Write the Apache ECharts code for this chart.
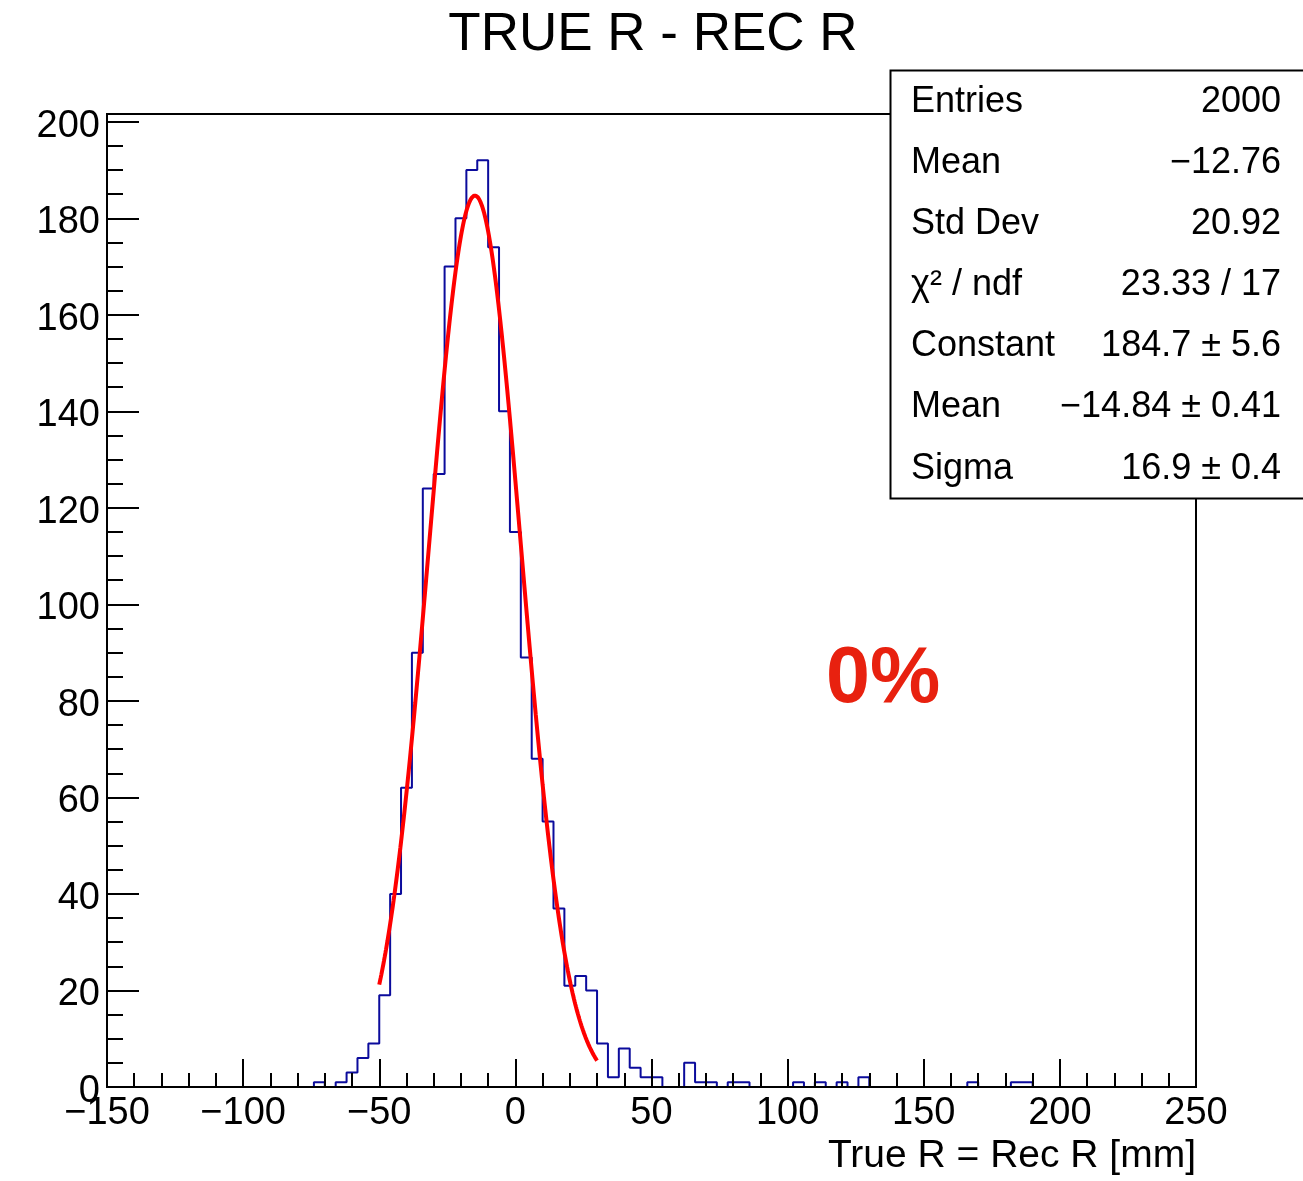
<!DOCTYPE html>
<html><head><meta charset="utf-8">
<script src="https://cdn.jsdelivr.net/npm/echarts@6/dist/echarts.min.js"></script>
<style>html,body{margin:0;padding:0;background:#fff}#c{width:1303px;height:1181px}</style>
</head><body><div id="c"></div>
<script>
const chartTitle = 'TRUE R - REC R';
const xAxisTitle = 'True R = Rec R [mm]';
const annotation = '0%';
// histogram: 100 bins of width 4 from -150 to 250
const binLow = -150;
const binWidth = 4;
const counts = [
  0,0,0,0,0,0,0,0,0,0,
  0,0,0,0,0,0,0,0,0,1,
  0,1,3,6,9,19,40,62,90,124,
  127,170,180,190,192,174,140,115,89,68,
  55,37,21,23,20,9,2,8,4,2,
  2,0,0,5,1,1,0,1,1,0,
  0,0,0,1,0,1,0,1,0,2,
  0,0,0,0,0,0,0,0,0,1,
  0,0,0,1,1,0,0,0,0,0,
  0,0,0,0,0,0,0,0,0,0
];
const xTicks = [-150, -100, -50, 0, 50, 100, 150, 200, 250];
const yTicks = [0, 20, 40, 60, 80, 100, 120, 140, 160, 180, 200];
const yMax = 201.6;
// Gaussian fit parameters: constant, mean, sigma
const fitParams = [184.7, -14.84, 16.9];
const fitRange = [-50, 30];
const statsLabels = ['Entries', 'Mean', 'Std Dev', 'χ² / ndf', 'Constant', 'Mean', 'Sigma'];
const statsValues = ['2000', '\u221212.76', '20.92', '23.33 / 17', '184.7 \u00b1 5.6', '\u221214.84 \u00b1 0.41', '16.9 \u00b1 0.4'];

const FONT = '"Liberation Sans", Arial, Helvetica, sans-serif';

const histData = counts.map((c, i) => [binLow + i * binWidth, c]);
histData.push([binLow + counts.length * binWidth, counts[counts.length - 1]]);

const fitData = [];
for (let x = fitRange[0]; x <= fitRange[1] + 1e-9; x += 0.25) {
  const z = (x - fitParams[1]) / fitParams[2];
  fitData.push([x, fitParams[0] * Math.exp(-0.5 * z * z)]);
}

const yMinor = [];
for (let v = 5; v < 200; v += 5) { if (v % 20 !== 0) yMinor.push(v); }

const fmtNum = v => (v < 0 ? '\u2212' + Math.abs(v) : String(v));

const graphics = [
  { type: 'text', x: 653, y: 35, z: 100,
    style: { text: chartTitle, font: '53px ' + FONT, fill: '#000', align: 'center', verticalAlign: 'middle' } },
  { type: 'text', x: 1196, y: 1156, z: 100,
    style: { text: xAxisTitle, font: '39px ' + FONT, fill: '#000', align: 'right', verticalAlign: 'middle' } },
  { type: 'text', x: 826, y: 680, z: 100,
    style: { text: annotation, font: 'bold 79px ' + FONT, fill: '#e8210f', align: 'left', verticalAlign: 'middle' } },
  { type: 'rect', z: 100, shape: { x: 890.5, y: 70.5, width: 500, height: 428 },
    style: { fill: '#fff', stroke: '#000', lineWidth: 2 } }
];
statsLabels.forEach((lab, i) => {
  const y = 102 + 61.1 * i;
  graphics.push({ type: 'text', x: 911, y: y, z: 101,
    style: { text: lab, font: '36px ' + FONT, fill: '#000', align: 'left', verticalAlign: 'middle' } });
  graphics.push({ type: 'text', x: 1281, y: y, z: 101,
    style: { text: statsValues[i], font: '36px ' + FONT, fill: '#000', align: 'right', verticalAlign: 'middle' } });
});

const chart = echarts.init(document.getElementById('c'), null, { renderer: 'canvas' });
chart.setOption({
  animation: false,
  backgroundColor: '#fff',
  textStyle: { fontFamily: FONT },
  grid: { left: 107, right: 107, top: 114, bottom: 94, show: true, borderColor: '#000', borderWidth: 2, backgroundColor: 'transparent' },
  xAxis: {
    type: 'value', min: -150, max: 250, interval: 50, z: 3,
    axisLine: { show: true, onZero: false, lineStyle: { color: '#000', width: 2 } },
    axisTick: { show: true, inside: true, length: 28, lineStyle: { color: '#000', width: 2 } },
    minorTick: { show: true, splitNumber: 5, length: 14, lineStyle: { color: '#000', width: 2 } },
    axisLabel: { show: true, color: '#000', fontSize: 38, margin: 8, fontFamily: FONT, formatter: fmtNum,
      customValues: xTicks },
    splitLine: { show: false }, minorSplitLine: { show: false }
  },
  yAxis: [
    {
      type: 'value', min: 0, max: yMax, position: 'left', z: 3,
      axisLine: { show: true, onZero: false, lineStyle: { color: '#000', width: 2 } },
      axisTick: { show: true, inside: true, length: 32, customValues: yTicks, lineStyle: { color: '#000', width: 2 } },
      axisLabel: { show: true, color: '#000', fontSize: 38, margin: 7, fontFamily: FONT, customValues: yTicks,
        formatter: v => '{a|' + fmtNum(v) + '}',
        rich: { a: { fontSize: 38, color: '#000', fontFamily: FONT, padding: [9, 0, 0, 0] } } },
      splitLine: { show: false }
    },
    {
      type: 'value', min: 0, max: yMax, position: 'left', offset: 0, z: 3,
      axisLine: { show: false, onZero: false },
      axisTick: { show: true, inside: true, length: 16, customValues: yMinor, lineStyle: { color: '#000', width: 2 } },
      axisLabel: { show: false },
      splitLine: { show: false }
    }
  ],
  series: [
    {
      name: 'hist', type: 'line', data: histData, step: 'end', yAxisIndex: 0,
      showSymbol: false, symbol: 'none', lineStyle: { color: '#0b0b9c', width: 2 }, z: 2
    },
    {
      name: 'fit', type: 'line', data: fitData, yAxisIndex: 0, smooth: false,
      showSymbol: false, symbol: 'none', lineStyle: { color: '#ff0000', width: 4 }, z: 4
    }
  ],
  graphic: graphics
});
</script>
</body></html>
